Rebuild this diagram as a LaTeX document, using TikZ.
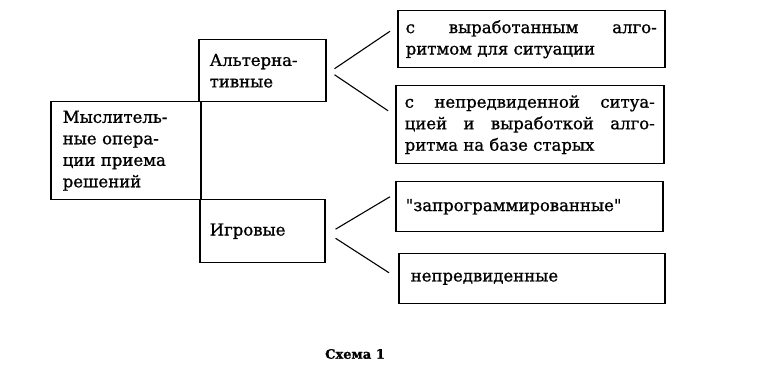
\documentclass[tikz,border=0pt]{standalone}
\usepackage{fontspec}
\setmainfont{DejaVu Serif}[Ligatures=TeXOff, FakeBold=1]
\usetikzlibrary{positioning}

\begin{document}
\begin{tikzpicture}[
        x=1pt, y=1pt,
        box/.style={rectangle, draw, line width=1.5pt, inner ysep=0pt, anchor=north west, font=\fontsize{16.5}{21.5}\selectfont},
        link/.style={line width=1.1pt}
    ]
        \useasboundingbox (0,0) rectangle (763,374);

        % left column
        \node[box, minimum height=98pt, text width=126pt, inner xsep=12pt, align=left] (main) at (50,273)
            {\parbox{106pt}{Мыслитель-\linebreak ные опера-\linebreak ции приема\linebreak решений}};
        \node[box, minimum height=62pt, text width=105pt, inner xsep=11pt, align=left] (alt) at (198,335)
            {Альтерна-\\тивные};
        \node[box, minimum height=63pt, text width=105pt, inner xsep=10pt, align=left] (game) at (199,175)
            {Игровые};

        % right column
        \node[box, minimum height=57pt, text width=251pt, inner xsep=8pt, align=justify] (known) at (397,364)
            {с выработанным алго-\linebreak ритмом для ситуации};
        \node[box, minimum height=78pt, text width=250pt, inner xsep=9pt, align=justify] (unforeseen) at (395,289)
            {с непредвиденной ситуа-\linebreak цией и выработкой алго-\linebreak ритма на базе старых};
        \node[box, minimum height=50pt, text width=247pt, inner xsep=10pt, align=left] (programmed) at (395,193)
            {"запрограммированные"};
        \node[box, minimum height=50pt, text width=242pt, inner xsep=12pt, align=left] (surprise) at (398,121)
            {непредвиденные};

        % branches
        \draw[link] ([xshift=8pt,yshift=2pt]alt.east) -- ([xshift=-7pt,yshift=8pt]known.west);
        \draw[link] ([xshift=8pt,yshift=-4pt]alt.east) -- ([xshift=-7pt,yshift=14pt]unforeseen.west);
        \draw[link] ([xshift=10pt,yshift=2pt]game.east) -- ([xshift=-5pt,yshift=10pt]programmed.west);
        \draw[link] ([xshift=10pt,yshift=-7pt]game.east) -- ([xshift=-9pt,yshift=6pt]surprise.west);

        % caption
        \node[font=\fontsize{13}{15}\selectfont\bfseries] (caption) at (355,20) {Схема 1};
\end{tikzpicture}
\end{document}
